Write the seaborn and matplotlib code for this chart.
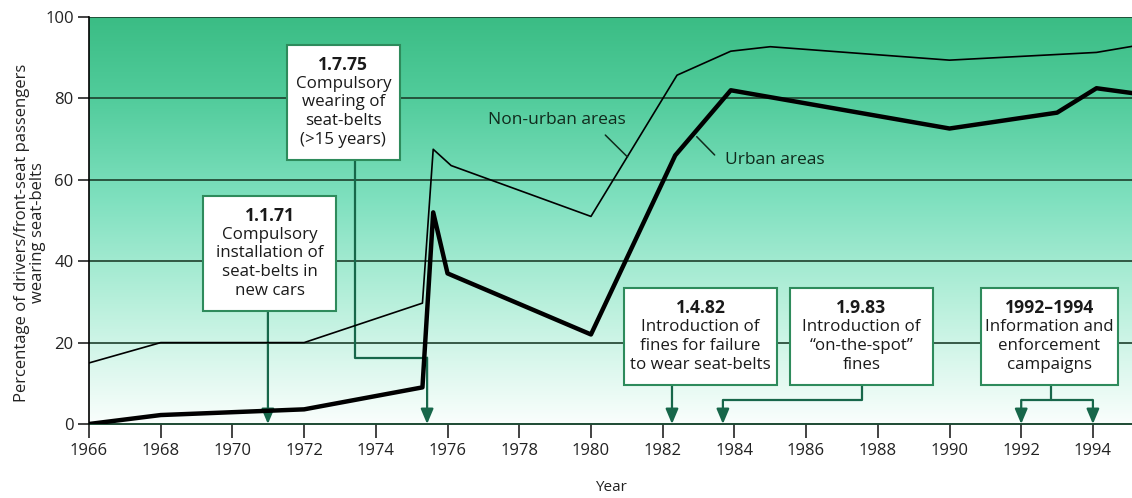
import numpy as np
import pandas as pd
import matplotlib
matplotlib.use('Agg')
import matplotlib.pyplot as plt
from matplotlib.colors import LinearSegmentedColormap
from matplotlib.patches import Rectangle
import seaborn as sns

sns.set_style('ticks')
plt.rcParams['font.family'] = ['Open Sans', 'DejaVu Sans']

# data
nonurban_years = [1966, 1968, 1972, 1975.3, 1975.6, 1976.1, 1980, 1982.4, 1983.9, 1985, 1990, 1994.1, 1995.1]
nonurban_pct = [15, 20, 20, 29.7, 67.5, 63.5, 51, 85.7, 91.6, 92.7, 89.4, 91.3, 92.8]
urban_years = [1966, 1968, 1972, 1975.3, 1975.6, 1976.0, 1980, 1982.35, 1983.9, 1990, 1993, 1994.1, 1995.1]
urban_pct = [0, 2.2, 3.6, 9, 52, 37, 22, 66, 82, 72.6, 76.5, 82.5, 81.3]

x_ticks = list(range(1966, 1995, 2))
y_ticks = [0, 20, 40, 60, 80, 100]

# annotation boxes: (x0, x1, y0, y1, lines)
boxes = [
    (1971.52, 1974.67, 64.9, 93.1, ['1.7.75', 'Compulsory', 'wearing of', 'seat-belts', '(>15 years)']),
    (1969.18, 1972.89, 27.8, 56.0, ['1.1.71', 'Compulsory', 'installation of', 'seat-belts in', 'new cars']),
    (1980.92, 1985.19, 9.6, 33.4, ['1.4.82', 'Introduction of', 'fines for failure', 'to wear seat-belts']),
    (1985.55, 1989.54, 9.6, 33.4, ['1.9.83', 'Introduction of', '\u201con-the-spot\u201d', 'fines']),
    (1990.87, 1994.69, 9.6, 33.4, ['1992\u20131994', 'Information and', 'enforcement', 'campaigns']),
]
# connector polylines, last point is the arrow tip
connectors = [
    [(1973.42, 64.9), (1973.42, 16.3), (1975.43, 16.3), (1975.43, 0)],
    [(1970.99, 27.8), (1970.99, 0)],
    [(1982.26, 9.6), (1982.26, 0)],
    [(1987.56, 9.6), (1987.56, 5.9), (1983.68, 5.9), (1983.68, 0)],
    [(1992.83, 9.6), (1992.83, 5.9), (1992.0, 5.9), (1992.0, 0)],
    [(1992.83, 5.9), (1994.0, 5.9), (1994.0, 0)],
]

nonurban = pd.DataFrame({'Year': nonurban_years, 'Pct': nonurban_pct})
urban = pd.DataFrame({'Year': urban_years, 'Pct': urban_pct})

fig = plt.figure(figsize=(11.32, 4.98), dpi=100)
ax = fig.add_axes([89 / 1132, 1 - 424 / 498, 1 - 89 / 1132, (424 - 17) / 498])
xmin, xmax = 1966, 1995.09
ax.set_xlim(xmin, xmax)
ax.set_ylim(0, 100)

# green gradient background
cmap = LinearSegmentedColormap.from_list('bg', [
    (0.0, (0.98, 0.997, 0.99)),
    (0.12, (0.88, 0.975, 0.94)),
    (0.3, (0.72, 0.94, 0.86)),
    (0.55, (0.50, 0.88, 0.75)),
    (0.8, (0.32, 0.80, 0.61)),
    (1.0, (0.23, 0.74, 0.52)),
])
grad = np.linspace(0, 1, 256).reshape(-1, 1)
ax.imshow(grad, extent=[xmin, xmax, 0, 100], origin='lower', aspect='auto', cmap=cmap, zorder=0)

grid_col = '#1d3f2c'
for yv in y_ticks[1:]:
    ax.axhline(yv, color=grid_col, lw=1.2, zorder=1)

conn_col = '#17674a'
for pts in connectors:
    xs = [p[0] for p in pts]
    ys = [p[1] for p in pts]
    ax.plot(xs[:-1], ys[:-1], color=conn_col, lw=1.6, zorder=3, solid_capstyle='butt')
    ax.annotate('', xy=pts[-1], xytext=pts[-2],
                arrowprops=dict(arrowstyle='-|>,head_length=0.9,head_width=0.38',
                                color=conn_col, lw=1.6, shrinkA=0, shrinkB=0),
                zorder=3)

box_edge = '#2e8b5c'
line_step = 4.6
for x0, x1, y0, y1, lines in boxes:
    ax.add_patch(Rectangle((x0, y0), x1 - x0, y1 - y0, facecolor='white',
                           edgecolor=box_edge, lw=1.5, zorder=4))
    cx = (x0 + x1) / 2
    cy = (y0 + y1) / 2
    n = len(lines)
    for i, txt in enumerate(lines):
        yy = cy + (n - 1) / 2 * line_step - i * line_step
        ax.text(cx, yy, txt, ha='center', va='center', fontsize=12.6 if i == 0 else 12.2,
                fontweight='bold' if i == 0 else 'normal', color='#1a1a1a', zorder=5)

sns.lineplot(data=nonurban, x='Year', y='Pct', color='black', lw=1.2, ax=ax, zorder=6)
sns.lineplot(data=urban, x='Year', y='Pct', color='black', lw=3.2, ax=ax, zorder=6)

# series labels with leader lines
ax.text(1979.05, 74.7, 'Non-urban areas', ha='center', va='center', fontsize=12.5, color='#102a1c', zorder=6)
ax.plot([1980.4, 1981.02], [71.0, 65.6], color='#102a1c', lw=1.1, zorder=6)
ax.text(1983.75, 64.9, 'Urban areas', ha='left', va='center', fontsize=12.5, color='#102a1c', zorder=6)
ax.plot([1982.95, 1983.45], [70.6, 66.1], color='#102a1c', lw=1.1, zorder=6)

ax.set_xticks(x_ticks)
ax.set_yticks(y_ticks)
ax.tick_params(axis='x', direction='out', length=10, width=1.2, labelsize=12, colors='#222222', pad=4)
ax.tick_params(axis='y', direction='out', length=8, width=1.2, labelsize=12, colors='#222222', pad=3)
for s in ['top', 'right']:
    ax.spines[s].set_visible(False)
ax.spines['left'].set_color('black')
ax.spines['left'].set_linewidth(1.2)
ax.spines['bottom'].set_color('#1d4a33')
ax.spines['bottom'].set_linewidth(1.4)
ax.spines['left'].set_zorder(7)

ax.set_xlabel('Year', fontsize=11, color='#222222', labelpad=15)
ax.set_ylabel('Percentage of drivers/front-seat passengers\nwearing seat-belts', fontsize=12,
              color='#222222', labelpad=6, linespacing=1.0)
ax.yaxis.set_label_coords(-0.041, 0.47)

fig.savefig('out.png', dpi=100)
